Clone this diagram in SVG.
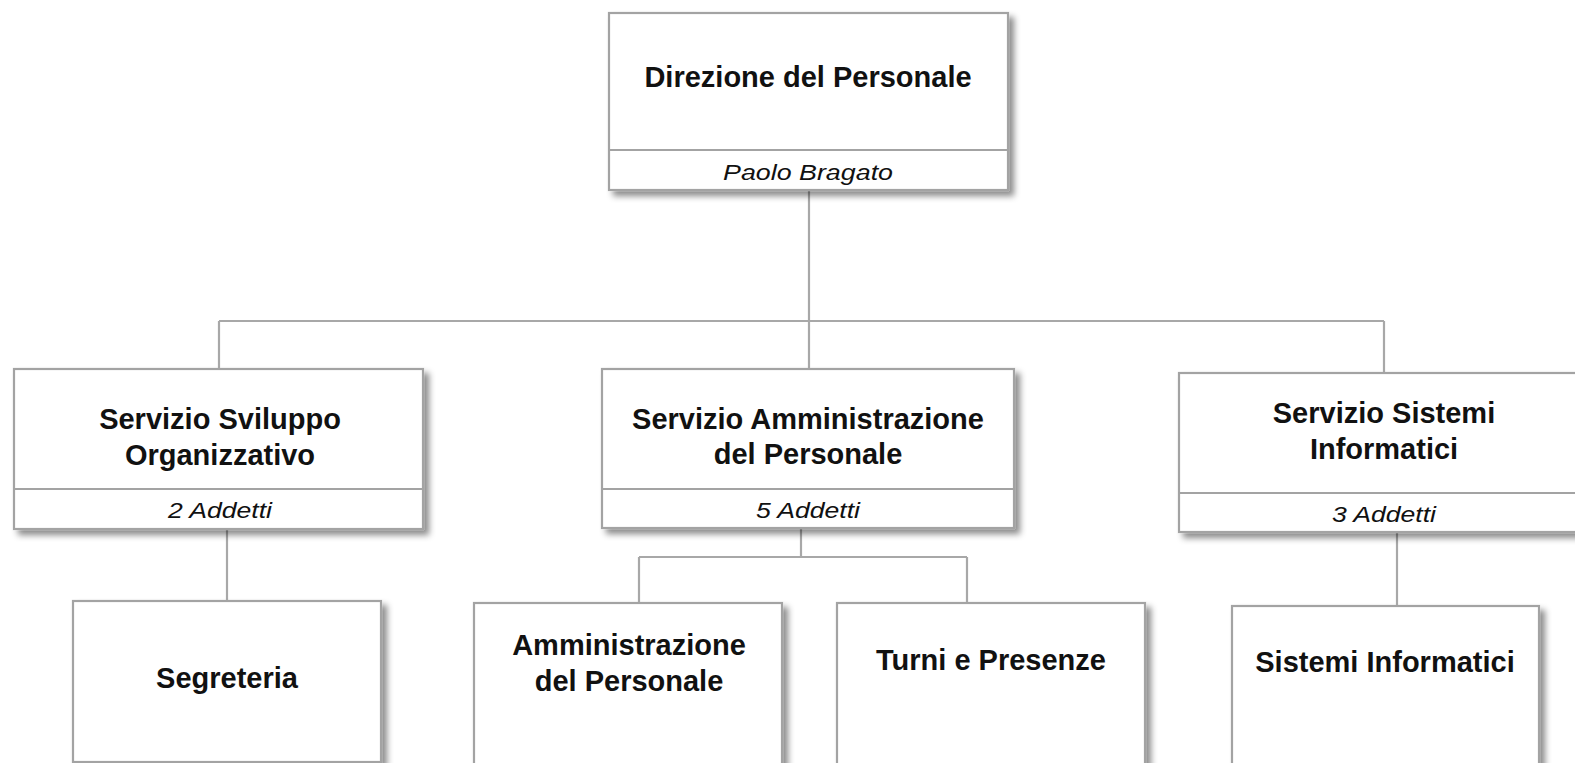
<svg xmlns="http://www.w3.org/2000/svg" width="1575" height="763" viewBox="0 0 1575 763">
<defs>
<filter id="sh" x="-10%" y="-10%" width="130%" height="140%">
<feDropShadow dx="5" dy="5" stdDeviation="3" flood-color="#000" flood-opacity="0.45"/>
</filter>
<style>
.box{fill:#fff;stroke:#a3a3a3;stroke-width:2.2;filter:url(#sh)}
.sep{stroke:#a3a3a3;stroke-width:2.2;fill:none}
.con{stroke:#a8a8a8;stroke-width:2.2;fill:none}
.t{font-family:"Liberation Sans",Arial,sans-serif;font-weight:bold;font-size:29px;fill:#111;text-anchor:middle}
.s{font-family:"Liberation Sans",Arial,sans-serif;font-style:italic;font-size:22px;fill:#111;text-anchor:middle}
</style>
</defs>
<rect width="1575" height="763" fill="#fff"/>
<g id="connectors">
<path class="con" d="M809 190V321M219 321H1384M219 321V369M809 321V369M1384 321V373"/>
<path class="con" d="M227 529V601"/>
<path class="con" d="M801 528V557M639 557H967M639 557V603M967 557V603"/>
<path class="con" d="M1397 532V606"/>
</g>
<g id="n-direzione">
<rect class="box" x="609" y="13" width="399" height="177"/>
<line class="sep" x1="609" y1="150" x2="1008" y2="150"/>
<text class="t" x="808" y="87">Direzione del Personale</text>
<text class="s" x="808" y="180" textLength="170" lengthAdjust="spacingAndGlyphs">Paolo Bragato</text>
</g>
<g id="n-sviluppo">
<rect class="box" x="14" y="369" width="409" height="160"/>
<line class="sep" x1="14" y1="489" x2="423" y2="489"/>
<text class="t" x="220" y="429">Servizio Sviluppo</text>
<text class="t" x="220" y="465">Organizzativo</text>
<text class="s" x="220" y="518" textLength="104" lengthAdjust="spacingAndGlyphs">2 Addetti</text>
</g>
<g id="n-amministrazione">
<rect class="box" x="602" y="369" width="412" height="159"/>
<line class="sep" x1="602" y1="489" x2="1014" y2="489"/>
<text class="t" x="808" y="429">Servizio Amministrazione</text>
<text class="t" x="808" y="464">del Personale</text>
<text class="s" x="808" y="518" textLength="104" lengthAdjust="spacingAndGlyphs">5 Addetti</text>
</g>
<g id="n-sistemi">
<rect class="box" x="1179" y="373" width="411" height="159"/>
<line class="sep" x1="1179" y1="493" x2="1590" y2="493"/>
<text class="t" x="1384" y="423">Servizio Sistemi</text>
<text class="t" x="1384" y="459">Informatici</text>
<text class="s" x="1384" y="522" textLength="104" lengthAdjust="spacingAndGlyphs">3 Addetti</text>
</g>
<g id="n-segreteria">
<rect class="box" x="73" y="601" width="308" height="161"/>
<text class="t" x="227" y="688">Segreteria</text>
</g>
<g id="n-amm-personale">
<rect class="box" x="474" y="603" width="308" height="170"/>
<text class="t" x="629" y="655">Amministrazione</text>
<text class="t" x="629" y="691">del Personale</text>
</g>
<g id="n-turni">
<rect class="box" x="837" y="603" width="308" height="170"/>
<text class="t" x="991" y="670">Turni e Presenze</text>
</g>
<g id="n-sistemi-informatici">
<rect class="box" x="1232" y="606" width="307" height="170"/>
<text class="t" x="1385" y="672">Sistemi Informatici</text>
</g>
</svg>
